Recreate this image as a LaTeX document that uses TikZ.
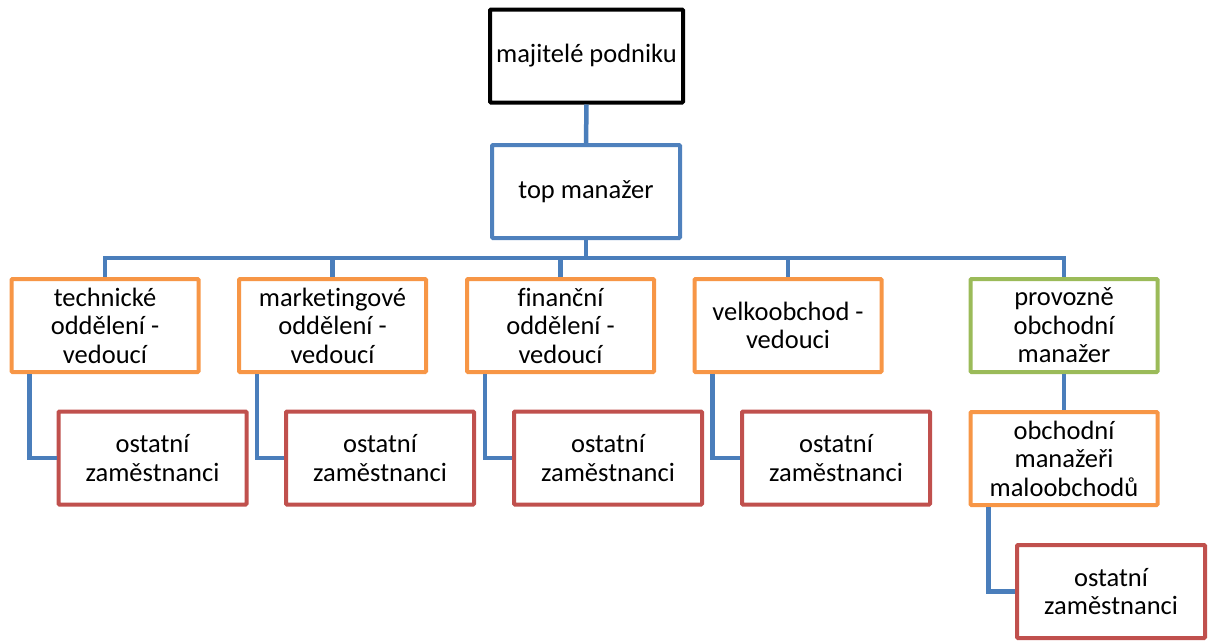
\documentclass[tikz,border=0pt]{standalone}
\usepackage{fontspec}
\setmainfont{Carlito}[Ligatures=CommonOff]
\definecolor{cblue}{HTML}{4F81BD}
\definecolor{cline}{HTML}{4A7EBB}
\definecolor{corange}{HTML}{F79646}
\definecolor{cgreen}{HTML}{9BBB59}
\definecolor{cred}{HTML}{C0504D}
\begin{document}
\begin{tikzpicture}[x=1pt,y=-1pt,
  box/.style={draw,line width=4pt,fill=white,minimum width=187pt,minimum height=93pt,
    align=center,inner sep=0pt,font=\fontsize{26.5}{28.5}\selectfont,rounded corners=1pt},
  ownerbox/.style={box,draw=black,minimum width=193pt},
  bluebox/.style={box,draw=cblue,minimum width=188pt},
  orangebox/.style={box,draw=corange},
  greenbox/.style={box,draw=cgreen},
  redbox/.style={box,draw=cred,minimum width=188pt},
  conn/.style={draw=cline,line width=4.5pt}]
\useasboundingbox (0,0) rectangle (1215,641);
\node[ownerbox] (own) at (586.5,56) {majitelé podniku};
\node[bluebox] (tm) at (586,191.5) {top manažer};
\node[orangebox] (c1) at (105,325.5) {technické\\oddělení -\\vedoucí};
\node[orangebox] (c2) at (332.5,325.5) {marketingové\\oddělení -\\vedoucí};
\node[orangebox] (c3) at (560.5,325.5) {finanční\\oddělení -\\vedoucí};
\node[orangebox] (c4) at (788,325.5) {velkoobchod -\\vedouci};
\node[greenbox] (c5) at (1064,325.5) {provozně\\obchodní\\manažer};
\node[redbox] (o1) at (152.5,458) {ostatní\\zaměstnanci};
\node[redbox] (o2) at (380,458) {ostatní\\zaměstnanci};
\node[redbox] (o3) at (608,458) {ostatní\\zaměstnanci};
\node[redbox] (o4) at (836,458) {ostatní\\zaměstnanci};
\node[orangebox] (om) at (1064,458.5) {obchodní\\manažeři\\maloobchodů};
\node[redbox] (o5) at (1111,591.5) {ostatní\\zaměstnanci};
\draw[conn] (own.south) -- (tm.north);
\foreach \c in {c1,c2,c3,c4,c5}{
  \draw[conn] (tm.south) -- ++(0,18) -| (\c.north);
}
\draw[conn] (c5.south) -- (om.north);
\foreach \p/\o in {c1/o1,c2/o2,c3/o3,c4/o4,om/o5}{
  \draw[conn] ([xshift=20pt]\p.south west) |- (\o.west);
}
\end{tikzpicture}
\end{document}
